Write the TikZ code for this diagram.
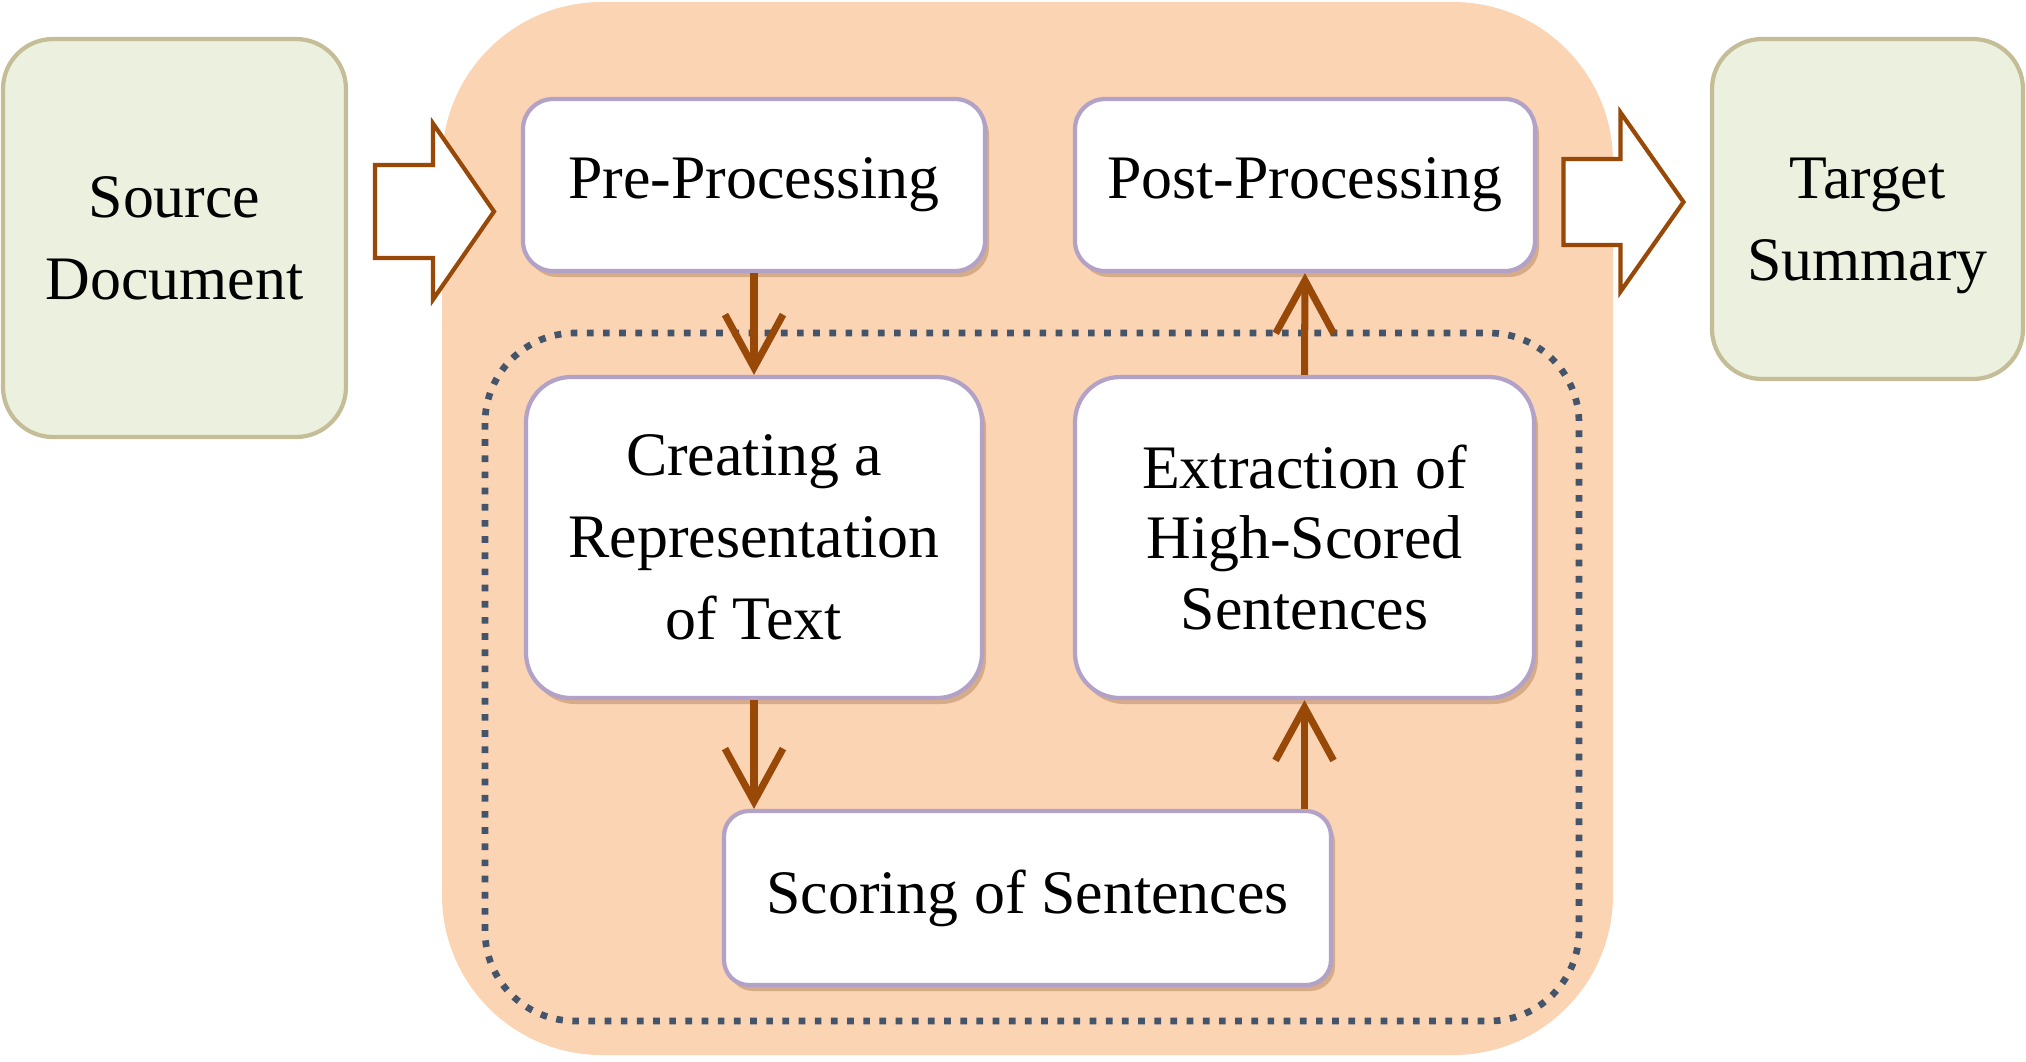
\documentclass[tikz,border=0pt]{standalone}
\usepackage{fontspec}
\setmainfont{Liberation Serif}
\usetikzlibrary{arrows.meta,shadows,calc}

\definecolor{tsPeach}{HTML}{FBD4B4}
\definecolor{tsSage}{HTML}{EBF1DE}
\definecolor{tsKhaki}{HTML}{C4BD97}
\definecolor{tsLilac}{HTML}{B3A2C7}
\definecolor{tsRust}{HTML}{984807}
\definecolor{tsSlate}{HTML}{44546A}

\begin{document}
\begin{tikzpicture}
\tikzset{
    tsEndBox/.style={rectangle,rounded corners=0.5cm,draw=tsKhaki,fill=tsSage,line width=1.2pt,align=center,font=\fontsize{17.6}{23.3}\selectfont},
    tsStepBox/.style={rectangle,rounded corners=0.3cm,draw=tsLilac,fill=white,line width=1.2pt,align=center,font=\fontsize{17.6}{23.3}\selectfont,
        drop shadow={shadow xshift=0.04cm,shadow yshift=-0.06cm,opacity=0.25,fill=tsRust!70!black}},
    tsBlockArrow/.style={draw=tsRust,fill=white,line width=1.2pt,line join=miter},
    tsFlow/.style={draw=tsRust,line width=2pt,-{Straight Barb[length=5.3mm,width=5.8mm]}}
}
\useasboundingbox (0,0) rectangle (20.26,-10.61);

% summariser body and the group of core steps
\fill[tsPeach,rounded corners=1.6cm] (4.42,-0.02) rectangle (16.13,-10.55);
\draw[tsSlate,line width=1.9pt,dash pattern=on 1.9pt off 2.7pt,rounded corners=0.9cm] (4.85,-3.33) rectangle (15.79,-10.21);

\coordinate (S) at (1.745,-2.38);   % input
\coordinate (T) at (18.675,-2.09);  % output
\coordinate (P) at (7.54,-1.85);    % pre
\coordinate (Q) at (13.05,-1.85);   % post
\coordinate (R) at (7.54,-5.375);   % representation
\coordinate (X) at (13.045,-5.375); % extraction
\coordinate (C) at (10.275,-8.98);  % scoring

\node[tsEndBox,minimum width=3.43cm,minimum height=3.98cm] (srcDoc) at (S) {Source\\Document};
\node[tsEndBox,minimum width=3.11cm,minimum height=3.40cm] (tgtSum) at (T) {\rule{0pt}{0.75cm}Target\\Summary};

\node[tsStepBox,minimum width=4.62cm,minimum height=1.72cm] (preProc) at (P) {Pre-Processing};
\node[tsStepBox,minimum width=4.60cm,minimum height=1.72cm] (postProc) at (Q) {Post-Processing};
\node[tsStepBox,rounded corners=0.45cm,minimum width=4.56cm,minimum height=3.21cm] (createRep) at (R) {Creating a\\Representation\\of Text};
\node[tsStepBox,rounded corners=0.45cm,minimum width=4.59cm,minimum height=3.21cm,font=\fontsize{17.6}{20.2}\selectfont] (extractSent) at (X) {Extraction of\\High-Scored\\Sentences};
\node[tsStepBox,rounded corners=0.25cm,minimum width=6.07cm,minimum height=1.74cm] (scoreSent) at (C) {Scoring of Sentences};

% block arrows in and out
\coordinate (inArrow) at ($(srcDoc.east)!0.5!(preProc.west)$);
\coordinate (outArrow) at ($(postProc.east)!0.5!(tgtSum.west)+(0,-0.05)$);
\draw[tsBlockArrow,shift={(inArrow)}] (-0.595,0.465) -- (-0.015,0.465) -- (-0.015,0.88) -- (0.595,0)
    -- (-0.015,-0.88) -- (-0.015,-0.465) -- (-0.595,-0.465) -- cycle;
\draw[tsBlockArrow,shift={(outArrow)}] (-0.6,0.43) -- (-0.03,0.43) -- (-0.03,0.895) -- (0.6,0)
    -- (-0.03,-0.895) -- (-0.03,-0.43) -- (-0.6,-0.43) -- cycle;

\draw[tsFlow] (preProc.south) -- (createRep.north);
\draw[tsFlow] (createRep.south) -- (createRep.south |- scoreSent.north);
\draw[tsFlow] (extractSent.south |- scoreSent.north) -- (extractSent.south);
\draw[tsFlow] (extractSent.north) -- (postProc.south);
\end{tikzpicture}
\end{document}
